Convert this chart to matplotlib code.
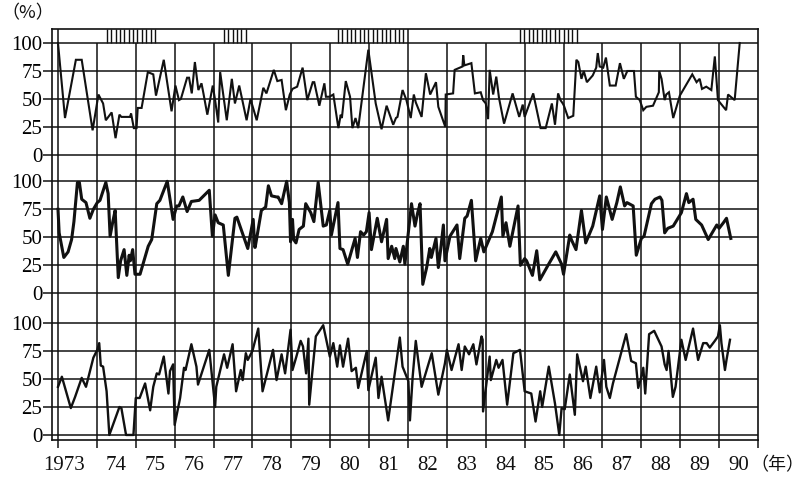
import matplotlib
matplotlib.use("Agg")
import matplotlib.pyplot as plt
import numpy as np
from matplotlib.transforms import blended_transform_factory

# ---------------- data (decimal year, %)
top_t = [1973.0, 1973.18, 1973.46, 1973.61, 1973.89, 1974.04, 1974.16, 1974.23, 1974.38, 1974.48,
         1974.58, 1974.63, 1974.85, 1974.88, 1974.95, 1975.02, 1975.05, 1975.15, 1975.31, 1975.45,
         1975.52, 1975.72, 1975.92, 1976.02, 1976.11, 1976.16, 1976.32, 1976.37, 1976.44, 1976.52,
         1976.61, 1976.69, 1976.74, 1976.84, 1976.98, 1977.04, 1977.12, 1977.17, 1977.34, 1977.47,
         1977.55, 1977.66, 1977.85, 1977.95, 1978.11, 1978.28, 1978.36, 1978.55, 1978.64, 1978.75,
         1978.86, 1978.96, 1979.03, 1979.15, 1979.29, 1979.41, 1979.55, 1979.59, 1979.72, 1979.85,
         1979.89, 1979.98, 1980.08, 1980.21, 1980.27, 1980.30, 1980.40, 1980.51, 1980.57, 1980.65,
         1980.72, 1980.98, 1981.17, 1981.32, 1981.45, 1981.62, 1981.69, 1981.73, 1981.86, 1981.96,
         1982.07, 1982.15, 1982.20, 1982.35, 1982.46, 1982.57, 1982.72, 1982.78, 1982.96, 1982.97,
         1983.16, 1983.20, 1983.40, 1983.42, 1983.45, 1983.63, 1983.72, 1983.87, 1983.93, 1984.00,
         1984.06, 1984.10, 1984.19, 1984.27, 1984.34, 1984.47, 1984.69, 1984.86, 1984.95, 1985.00,
         1985.22, 1985.41, 1985.54, 1985.70, 1985.78, 1985.86, 1985.92, 1985.98, 1986.01, 1986.12,
         1986.25, 1986.33, 1986.38, 1986.46, 1986.52, 1986.60, 1986.75, 1986.84, 1986.88, 1986.93,
         1987.02, 1987.09, 1987.19, 1987.34, 1987.45, 1987.55, 1987.64, 1987.81, 1987.86, 1987.96,
         1988.05, 1988.13, 1988.30, 1988.45, 1988.46, 1988.52, 1988.60, 1988.64, 1988.71, 1988.82,
         1988.99, 1989.31, 1989.42, 1989.50, 1989.56, 1989.67, 1989.80, 1989.89, 1989.97, 1990.18,
         1990.23, 1990.40, 1990.53]
top_v = [100, 33, 85, 85, 22, 54, 46, 31, 38, 15,
         36, 34, 34, 37, 24, 24, 42, 42, 74, 72,
         53, 85, 39, 62, 49, 50, 69, 69, 55, 83,
         58, 64, 55, 36, 62, 49, 29, 74, 31, 68,
         46, 62, 31, 50, 31, 60, 55, 76, 66, 67,
         40, 54, 59, 61, 78, 49, 65, 65, 44, 64,
         52, 52, 54, 24, 36, 33, 66, 52, 24, 33,
         24, 94, 46, 23, 44, 27, 33, 34, 58, 49,
         33, 54, 47, 34, 73, 54, 65, 43, 25, 54,
         55, 76, 79, 89, 80, 82, 55, 56, 49, 46,
         32, 76, 54, 70, 51, 28, 55, 34, 45, 34,
         55, 24, 24, 46, 27, 55, 49, 46, 44, 33,
         35, 85, 83, 68, 75, 65, 71, 78, 91, 79,
         78, 87, 62, 62, 82, 68, 75, 75, 52, 49,
         40, 43, 44, 56, 75, 68, 49, 54, 56, 33,
         53, 72, 65, 68, 59, 61, 58, 88, 49, 40,
         54, 49, 100]

mid_t = [1973.0, 1973.03, 1973.15, 1973.26, 1973.35, 1973.41, 1973.50, 1973.55, 1973.61, 1973.72,
         1973.82, 1973.91, 1974.01, 1974.08, 1974.23, 1974.29, 1974.34, 1974.41, 1974.47, 1974.55,
         1974.61, 1974.70, 1974.77, 1974.83, 1974.86, 1974.92, 1974.98, 1975.11, 1975.32, 1975.41,
         1975.54, 1975.62, 1975.81, 1975.96, 1976.05, 1976.11, 1976.21, 1976.32, 1976.43, 1976.63,
         1976.89, 1976.97, 1977.04, 1977.12, 1977.25, 1977.38, 1977.55, 1977.60, 1977.85, 1977.88,
         1978.02, 1978.06, 1978.07, 1978.23, 1978.34, 1978.41, 1978.49, 1978.62, 1978.66, 1978.75,
         1978.88, 1978.95, 1978.98, 1979.03, 1979.06, 1979.12, 1979.20, 1979.31, 1979.37, 1979.50,
         1979.58, 1979.69, 1979.82, 1979.90, 1979.99, 1980.03, 1980.20, 1980.25, 1980.33, 1980.45,
         1980.64, 1980.70, 1980.78, 1980.86, 1980.93, 1981.00, 1981.06, 1981.21, 1981.32, 1981.45,
         1981.49, 1981.58, 1981.66, 1981.69, 1981.79, 1981.88, 1981.92, 1982.01, 1982.09, 1982.18,
         1982.25, 1982.31, 1982.38, 1982.48, 1982.56, 1982.60, 1982.72, 1982.78, 1982.84, 1982.91,
         1982.95, 1983.08, 1983.26, 1983.33, 1983.46, 1983.52, 1983.63, 1983.74, 1983.87, 1983.95,
         1984.17, 1984.40, 1984.44, 1984.52, 1984.62, 1984.83, 1984.89, 1985.00, 1985.05, 1985.20,
         1985.31, 1985.39, 1985.60, 1985.80, 1985.95, 1986.00, 1986.16, 1986.20, 1986.32, 1986.46,
         1986.57, 1986.75, 1986.93, 1987.00, 1987.10, 1987.25, 1987.37, 1987.46, 1987.57, 1987.63,
         1987.79, 1987.87, 1988.00, 1988.07, 1988.26, 1988.35, 1988.48, 1988.53, 1988.60, 1988.68,
         1988.82, 1989.03, 1989.16, 1989.22, 1989.33, 1989.40, 1989.55, 1989.72, 1989.94, 1990.00,
         1990.11, 1990.19, 1990.30]
mid_v = [75, 54, 32, 37, 48, 64, 99, 99, 84, 81,
         67, 75, 81, 83, 99, 89, 51, 64, 74, 14,
         29, 39, 16, 34, 29, 39, 17, 17, 42, 48,
         80, 83, 100, 66, 78, 78, 86, 73, 82, 83,
         92, 51, 70, 63, 61, 16, 67, 68, 43, 40,
         66, 41, 41, 74, 77, 96, 87, 86, 86, 80,
         100, 81, 46, 66, 48, 45, 57, 60, 80, 72,
         64, 99, 60, 61, 74, 52, 81, 40, 39, 26,
         49, 32, 55, 52, 55, 72, 39, 67, 46, 66,
         31, 42, 31, 40, 28, 42, 26, 55, 80, 60,
         72, 80, 8, 23, 40, 32, 49, 23, 39, 61,
         29, 51, 61, 31, 67, 69, 83, 29, 49, 37,
         55, 86, 51, 63, 42, 78, 25, 31, 29, 16,
         38, 12, 25, 37, 26, 17, 52, 48, 39, 74,
         45, 60, 87, 57, 86, 66, 81, 95, 78, 81,
         78, 34, 49, 51, 80, 84, 86, 83, 54, 58,
         60, 72, 89, 81, 84, 66, 61, 48, 61, 58,
         63, 67, 49]

bot_t = [1973.0, 1973.10, 1973.33, 1973.44, 1973.61, 1973.72, 1973.91, 1974.01, 1974.06, 1974.10,
         1974.16, 1974.25, 1974.32, 1974.58, 1974.63, 1974.75, 1974.94, 1975.00, 1975.10, 1975.24,
         1975.37, 1975.45, 1975.54, 1975.60, 1975.72, 1975.84, 1975.88, 1975.96, 1976.00, 1976.14,
         1976.24, 1976.28, 1976.43, 1976.56, 1976.60, 1976.89, 1977.04, 1977.07, 1977.27, 1977.35,
         1977.49, 1977.58, 1977.70, 1977.75, 1977.83, 1977.88, 1978.00, 1978.15, 1978.26, 1978.53,
         1978.62, 1978.75, 1978.84, 1978.98, 1979.03, 1979.13, 1979.24, 1979.30, 1979.38, 1979.44,
         1979.46, 1979.52, 1979.63, 1979.82, 1979.99, 1980.08, 1980.18, 1980.25, 1980.33, 1980.46,
         1980.55, 1980.66, 1980.72, 1980.94, 1980.98, 1981.17, 1981.24, 1981.32, 1981.49, 1981.79,
         1981.86, 1982.01, 1982.05, 1982.12, 1982.20, 1982.35, 1982.61, 1982.78, 1982.95, 1983.00,
         1983.12, 1983.30, 1983.38, 1983.46, 1983.57, 1983.68, 1983.76, 1983.89, 1983.92, 1983.93,
         1984.10, 1984.13, 1984.27, 1984.33, 1984.43, 1984.55, 1984.71, 1984.88, 1985.00, 1985.17,
         1985.28, 1985.40, 1985.45, 1985.62, 1985.78, 1985.89, 1985.95, 1986.03, 1986.16,
         1986.29, 1986.35, 1986.50, 1986.57, 1986.69, 1986.84, 1986.93, 1987.04, 1987.10,
         1987.19, 1987.27, 1987.61, 1987.74, 1987.86, 1987.92, 1987.98, 1988.05,
         1988.10, 1988.20, 1988.33, 1988.52, 1988.60, 1988.65, 1988.70, 1988.81, 1988.88, 1989.03,
         1989.14, 1989.33, 1989.46, 1989.59, 1989.68, 1989.76, 1989.89, 1989.97, 1990.02, 1990.06,
         1990.15, 1990.19, 1990.28]
bot_v = [43, 52, 24, 34, 51, 43, 69, 76, 82, 62,
         61, 39, 0, 25, 24, 0, 0, 33, 33, 46,
         22, 43, 55, 54, 70, 37, 57, 63, 9, 33,
         60, 58, 81, 61, 45, 76, 25, 43, 72, 60,
         81, 39, 58, 49, 73, 67, 75, 95, 39, 76,
         49, 72, 55, 94, 58, 70, 84, 79, 55, 86,
         27, 49, 88, 98, 70, 82, 61, 80, 61, 86,
         57, 60, 42, 75, 40, 69, 33, 52, 13, 87,
         61, 48, 13, 52, 84, 43, 73, 36, 64, 76,
         58, 81, 58, 79, 72, 81, 63, 88, 85, 21,
         70, 49, 67, 60, 67, 27, 73, 76, 39, 37,
         12, 39, 25, 61, 28, 0, 24, 23, 54,
         18, 72, 48, 61, 33, 61, 38, 67, 43,
         33, 46, 90, 66, 64, 42, 49, 60,
         37, 90, 93, 79, 63, 58, 75, 34, 43, 85,
         67, 95, 67, 82, 82, 78, 84, 88, 98, 82,
         58, 67, 85]

recessions = [(1974.26, 1975.57), (1977.27, 1977.83), (1980.20, 1981.97), (1984.88, 1986.37)]

year_ticks = list(range(1973, 1992))
year_labels = ["1973"] + ["%02d" % (y % 100) for y in range(1974, 1991)]
value_ticks = [0, 25, 50, 75, 100]

# panel offsets in the shared vertical coordinate
offsets = {"bot": 0.0, "mid": 126.5, "top": 250.0}

# ---------------- figure
SERIF = ["Liberation Serif", "DejaVu Serif"]
CJK = ["Noto Sans CJK JP", "DejaVu Sans"]
ink = "#111111"

fig = plt.figure(figsize=(8.06, 4.78), dpi=100)
ax = fig.add_axes([52 / 806, 1 - 440 / 478, 706 / 806, 411 / 478])
X0, X1 = 1972.846, 1991.0
Y0, Y1 = -4.5, 362.5
ax.set_xlim(X0, X1)
ax.set_ylim(Y0, Y1)

for s in ax.spines.values():
    s.set_linewidth(1.2)
    s.set_color(ink)

# horizontal grid + y ticks
yt, yl = [], []
for key in ("bot", "mid", "top"):
    for v in value_ticks:
        yt.append(v + offsets[key])
        yl.append(str(v))
ax.set_yticks(yt)
ax.set_yticklabels(yl, fontfamily=SERIF, fontsize=15)
ax.tick_params(axis="y", direction="out", length=6.5, width=1.1, color=ink, pad=0.5)
ax.hlines(yt, X0, X1, color=ink, lw=1.1, zorder=1)

# vertical grid + x ticks
ax.set_xticks(year_ticks)
ax.set_xticklabels([])
ax.tick_params(axis="x", direction="out", length=5.5, width=1.1, color=ink)
for y in year_ticks[:-1]:
    top = Y1 if y in (1973, 1982) else 350
    ax.vlines(y, Y0, top, color=ink, lw=1.1, zorder=1)

# recession hatch band
for a, b in recessions:
    xs = np.arange(a, b + 1e-6, 0.112)
    ax.vlines(xs, 350, Y1, color=ink, lw=1.0, zorder=1)

# x labels centered inside each year
trans = blended_transform_factory(ax.transData, fig.transFigure)
for i, lab in enumerate(year_labels):
    yr = 1973 + i
    if i == 0:
        ax.text(yr + 0.69, 1 - 465 / 478, lab, transform=trans, ha="right", va="center",
                fontfamily=SERIF, fontsize=15, color=ink, clip_on=False)
    else:
        ax.text(yr + 0.5, 1 - 465 / 478, lab, transform=trans, ha="center", va="center",
                fontfamily=SERIF, fontsize=15, color=ink, clip_on=False)

fig.text(1 / 806, 1 - 13 / 478, "（%）", fontfamily=CJK, fontsize=13, ha="left", va="center", color=ink)
fig.text(804 / 806, 1 - 465 / 478, "（年）", fontfamily=CJK, fontsize=13, ha="right", va="center", color=ink)

# series
ax.plot(top_t, np.array(top_v) + offsets["top"], color=ink, lw=1.5, zorder=3, solid_joinstyle="miter")
ax.plot(mid_t, np.array(mid_v) + offsets["mid"], color=ink, lw=2.2, zorder=3)
ax.plot(bot_t, np.array(bot_v) + offsets["bot"], color=ink, lw=1.7, zorder=3)

fig.savefig("out.png", dpi=100)
